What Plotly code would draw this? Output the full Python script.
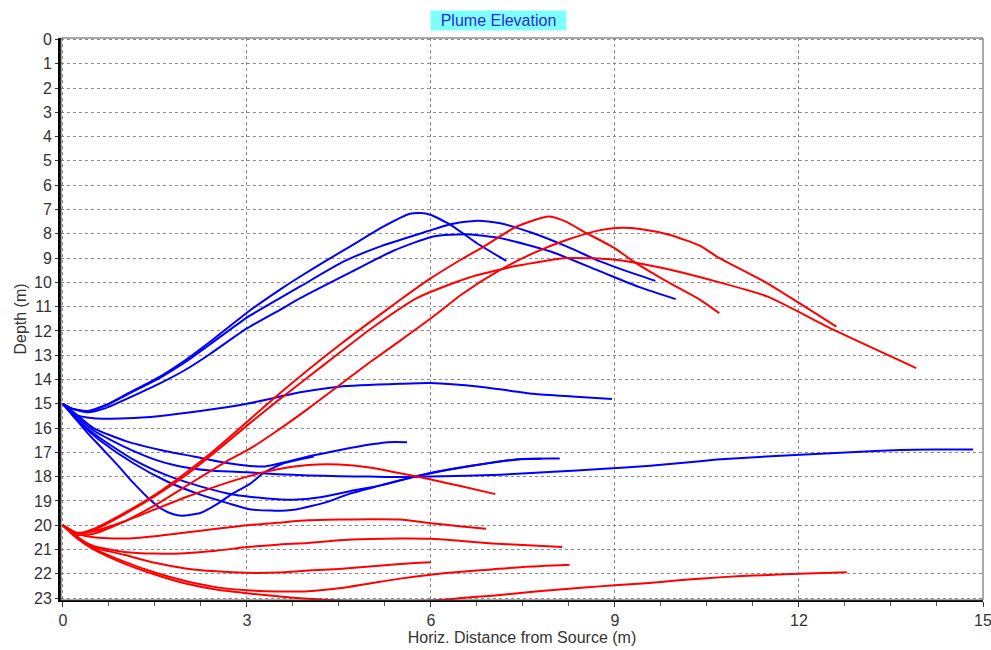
import plotly.graph_objects as go

# ---------------- data ----------------
# Blue plumes (source depth 15 m)
b1_x = [0, 0.15, 0.4, 0.7, 1.04, 1.59, 2.0, 2.4, 3.0, 3.54, 3.87, 4.3, 4.68, 5.23, 5.66, 5.83, 5.99, 6.32, 6.75, 7.23]
b1_d = [15, 15.2, 15.3, 15.05, 14.6, 13.87, 13.2, 12.45, 11.25, 10.3, 9.76, 9.1, 8.53, 7.7, 7.18, 7.15, 7.22, 7.63, 8.39, 9.12]
b2_x = [0, 0.15, 0.4, 0.7, 1.04, 1.59, 2.0, 2.4, 3.0, 3.54, 3.87, 4.58, 5.2, 5.93, 6.32, 6.75, 7.13, 7.67, 8.22, 8.76, 9.2, 9.66]
b2_d = [15, 15.2, 15.32, 15.08, 14.63, 13.92, 13.28, 12.55, 11.45, 10.65, 10.17, 9.14, 8.5, 7.91, 7.61, 7.46, 7.57, 7.98, 8.53, 9.14, 9.55, 9.94]
b3_x = [0, 0.15, 0.4, 0.7, 1.04, 1.59, 2.0, 2.4, 3.0, 3.54, 3.87, 4.68, 5.39, 6.04, 6.59, 7.13, 7.95, 8.76, 9.4, 9.99]
b3_d = [15, 15.2, 15.35, 15.18, 14.8, 14.15, 13.6, 12.95, 11.9, 11.13, 10.65, 9.6, 8.7, 8.11, 8.02, 8.18, 8.73, 9.55, 10.2, 10.69]
b4_x = [0, 0.2, 0.5, 1.04, 1.59, 2.24, 3.0, 3.87, 4.5, 5.5, 5.99, 6.8, 7.67, 8.3, 8.95]
b4_d = [15, 15.45, 15.6, 15.6, 15.5, 15.3, 15.0, 14.53, 14.3, 14.18, 14.15, 14.3, 14.59, 14.7, 14.8]
b5_x = [0, 0.25, 0.5, 1.04, 1.59, 2.13, 2.67, 3.05, 3.3, 3.6, 4.09, 4.52, 5.06, 5.3, 5.61]
b5_d = [15, 15.5, 16.0, 16.55, 16.9, 17.17, 17.44, 17.56, 17.58, 17.42, 17.12, 16.9, 16.66, 16.58, 16.58]
b6_x = [0, 0.2, 0.4, 0.61, 0.9, 1.15, 1.4, 1.59, 1.8, 1.94, 2.24, 2.5, 2.78, 3.05, 3.27, 3.6, 4.09]
b6_d = [15, 15.6, 16.2, 16.76, 17.55, 18.26, 18.9, 19.3, 19.55, 19.61, 19.5, 19.15, 18.68, 18.3, 17.85, 17.45, 17.17]
b7_x = [0, 0.3, 0.6, 1.15, 1.7, 2.24, 2.7, 3.0, 3.4, 3.8, 4.3, 4.68, 5.2, 5.72, 6.2, 6.8, 7.46, 7.8]
b7_d = [15, 15.85, 16.5, 17.45, 18.2, 18.74, 19.1, 19.32, 19.4, 19.35, 19.05, 18.7, 18.35, 18.0, 17.75, 17.5, 17.28, 17.26]
b8_x = [0, 0.3, 0.6, 1.15, 1.7, 2.24, 2.8, 3.33, 3.76, 4.2, 4.68, 5.2, 5.72, 6.2, 6.8, 7.46, 8.1]
b8_d = [15, 15.8, 16.4, 17.3, 17.95, 18.4, 18.75, 18.9, 18.95, 18.85, 18.6, 18.35, 18.02, 17.76, 17.5, 17.27, 17.25]
b9_x = [0, 0.25, 0.5, 1.04, 1.5, 1.86, 2.4, 3.0, 3.5, 4.0, 4.5, 5.0, 5.5, 6.0, 7.13, 8.0, 8.76, 9.58, 10.12, 10.66, 11.21, 12.02, 12.84, 13.66, 14.2, 14.84]
b9_d = [15, 15.6, 16.1, 16.82, 17.3, 17.55, 17.75, 17.82, 17.9, 17.95, 17.98, 18.0, 18.02, 18.0, 17.92, 17.8, 17.69, 17.55, 17.43, 17.3, 17.21, 17.1, 17.0, 16.9, 16.88, 16.88]

# Red plumes (source depth 20 m)
r1_x = [0, 0.2, 0.5, 1.0, 1.5, 2.0, 2.5, 3.0, 3.5, 4.0, 4.5, 5.0, 5.5, 6.0, 6.5, 6.86, 7.4, 7.92, 8.2, 8.49, 9.0, 9.3, 9.8, 10.39, 10.7]
r1_d = [20, 20.35, 20.15, 19.5, 18.75, 17.85, 16.85, 15.75, 14.65, 13.6, 12.6, 11.65, 10.72, 9.83, 9.05, 8.53, 7.7, 7.29, 7.5, 7.91, 8.6, 9.14, 9.9, 10.72, 11.27]
r2_x = [0, 0.2, 0.5, 1.04, 1.59, 2.13, 2.67, 3.05, 3.5, 4.0, 4.41, 5.0, 5.5, 6.04, 6.5, 7.13, 7.67, 8.22, 8.76, 9.1, 9.41, 9.9, 10.39, 10.66, 11.48, 12.0, 12.61]
r2_d = [20, 20.38, 20.35, 19.8, 19.05, 18.2, 17.37, 16.85, 16.1, 15.2, 14.42, 13.3, 12.4, 11.41, 10.5, 9.49, 8.8, 8.25, 7.85, 7.75, 7.8, 8.05, 8.5, 8.94, 10.03, 10.85, 11.82]
r3_x = [0, 0.2, 0.5, 1.0, 1.5, 2.0, 2.5, 3.0, 3.5, 4.0, 4.5, 5.0, 5.77, 6.59, 7.4, 8.22, 9.0, 9.85, 10.66, 11.48, 12.56, 13.91]
r3_d = [20, 20.37, 20.2, 19.55, 18.8, 17.95, 16.95, 15.9, 14.88, 13.9, 12.92, 11.95, 10.65, 9.83, 9.32, 9.0, 9.07, 9.45, 9.97, 10.58, 11.95, 13.53]
r4_x = [0, 0.2, 0.5, 1.0, 1.5, 2.0, 2.5, 3.0, 3.5, 4.0, 4.5, 5.0, 5.5, 6.0, 6.5, 7.05]
r4_d = [20, 20.3, 20.25, 19.85, 19.35, 18.85, 18.4, 18.0, 17.7, 17.52, 17.5, 17.62, 17.86, 18.12, 18.4, 18.72]
r5_x = [0, 0.25, 0.5, 1.0, 1.5, 2.0, 2.5, 3.0, 3.5, 4.0, 4.5, 5.0, 5.5, 6.0, 6.5, 6.9]
r5_d = [20, 20.35, 20.5, 20.55, 20.45, 20.3, 20.15, 20.0, 19.9, 19.8, 19.77, 19.76, 19.77, 19.92, 20.05, 20.15]
r6_x = [0, 0.25, 0.5, 1.0, 1.5, 2.0, 2.5, 3.0, 3.5, 4.0, 4.5, 5.0, 5.5, 6.0, 6.5, 7.0, 7.5, 8.14]
r6_d = [20, 20.55, 20.85, 21.1, 21.17, 21.15, 21.05, 20.9, 20.8, 20.73, 20.62, 20.57, 20.55, 20.56, 20.65, 20.75, 20.82, 20.9]
r7_x = [0, 0.25, 0.5, 1.0, 1.5, 2.0, 2.5, 3.0, 3.5, 4.0, 4.5, 5.0, 5.5, 6.0]
r7_d = [20, 20.5, 20.9, 21.22, 21.55, 21.78, 21.9, 21.96, 21.95, 21.87, 21.8, 21.7, 21.6, 21.53]
r8_x = [0, 0.25, 0.5, 1.0, 1.5, 2.0, 2.5, 3.0, 3.5, 4.0, 4.5, 5.0, 5.5, 6.0, 6.5, 7.0, 7.5, 8.26]
r8_d = [20, 20.55, 20.95, 21.5, 21.95, 22.3, 22.55, 22.68, 22.73, 22.72, 22.6, 22.4, 22.2, 22.04, 21.92, 21.82, 21.72, 21.63]
r9_x = [0, 0.25, 0.5, 1.0, 1.5, 2.0, 2.5, 3.0, 3.5, 4.0, 4.5, 5.0, 5.5, 6.0, 6.5, 7.0, 7.5, 8.0, 8.5, 9.0, 9.5, 10.0, 10.5, 11.0, 11.5, 12.0, 12.78]
r9_d = [20, 20.58, 21.0, 21.58, 22.03, 22.4, 22.65, 22.8, 22.93, 23.03, 23.1, 23.12, 23.12, 23.1, 23.0, 22.9, 22.78, 22.67, 22.57, 22.47, 22.39, 22.28, 22.18, 22.1, 22.05, 22.0, 21.94]

blue_curves = [(b1_x, b1_d), (b2_x, b2_d), (b3_x, b3_d), (b4_x, b4_d), (b5_x, b5_d),
               (b6_x, b6_d), (b7_x, b7_d), (b8_x, b8_d), (b9_x, b9_d)]
red_curves = [(r1_x, r1_d), (r2_x, r2_d), (r3_x, r3_d), (r4_x, r4_d), (r5_x, r5_d),
              (r6_x, r6_d), (r7_x, r7_d), (r8_x, r8_d), (r9_x, r9_d)]

x_ticks = [0, 3, 6, 9, 12, 15]
y_ticks = list(range(0, 24))

title_text = "Plume Elevation"
x_title = "Horiz. Distance from Source (m)"
y_title = "Depth (m)"

# ---------------- figure ----------------
fig = go.Figure()
for xs, ds in blue_curves:
    fig.add_trace(go.Scatter(x=xs, y=ds, mode="lines",
                             line=dict(color="#0000ff", width=2, shape="spline", smoothing=0.6),
                             hoverinfo="skip", showlegend=False, cliponaxis=True))
for xs, ds in red_curves:
    fig.add_trace(go.Scatter(x=xs, y=ds, mode="lines",
                             line=dict(color="#ff0000", width=2, shape="spline", smoothing=0.6),
                             hoverinfo="skip", showlegend=False, cliponaxis=True))

font_family = "Liberation Sans, Arial, sans-serif"
fig.update_layout(
    width=991, height=650,
    margin=dict(l=61, r=8, t=38, b=50, autoexpand=False),
    paper_bgcolor="white", plot_bgcolor="white",
    font=dict(family=font_family, size=16, color="#333333"),
    showlegend=False,
    annotations=[dict(text=title_text, xref="paper", yref="paper", x=0.474, y=1.031,
                      xanchor="center", yanchor="middle", showarrow=False,
                      font=dict(family=font_family, size=16, color="#2b2bd8"),
                      bgcolor="#80ffff", borderpad=1, width=133, height=17)],
)
fig.update_xaxes(
    range=[-0.03, 15], tickvals=x_ticks, ticktext=[str(v) for v in x_ticks],
    showgrid=True, gridcolor="#8c8c8c", griddash="3px,3px", gridwidth=1,
    zeroline=False, showline=True, linecolor="black", linewidth=2, mirror=False,
    ticks="outside", ticklen=5, tickcolor="#333333", automargin=False,
    ticklabeloverflow="allow",
    minor=dict(dtick=0.75, tick0=0, ticks="outside", ticklen=4, tickcolor="#555555", showgrid=False),
    title=dict(text=x_title, standoff=4, font=dict(size=16)),
    tickfont=dict(size=16),
)
fig.update_yaxes(
    range=[23.08, -0.06], tickvals=y_ticks, ticktext=[str(v) for v in y_ticks],
    showgrid=True, gridcolor="#8c8c8c", griddash="3px,3px", gridwidth=1,
    zeroline=False, showline=True, linecolor="black", linewidth=3, mirror=False,
    ticks="outside", ticklen=3, tickcolor="#333333", automargin=False,
    ticklabeloverflow="allow",
    title=dict(text=y_title, standoff=4, font=dict(size=16)),
    tickfont=dict(size=16),
)
# thin top/right frame
fig.add_shape(type="rect", xref="paper", yref="paper", x0=0, y0=0, x1=1, y1=1,
              line=dict(color="#555555", width=1), layer="above")

fig.write_html("out.html", config={"displayModeBar": False},
               post_script="document.body.style.margin='0';document.body.style.padding='0';")
